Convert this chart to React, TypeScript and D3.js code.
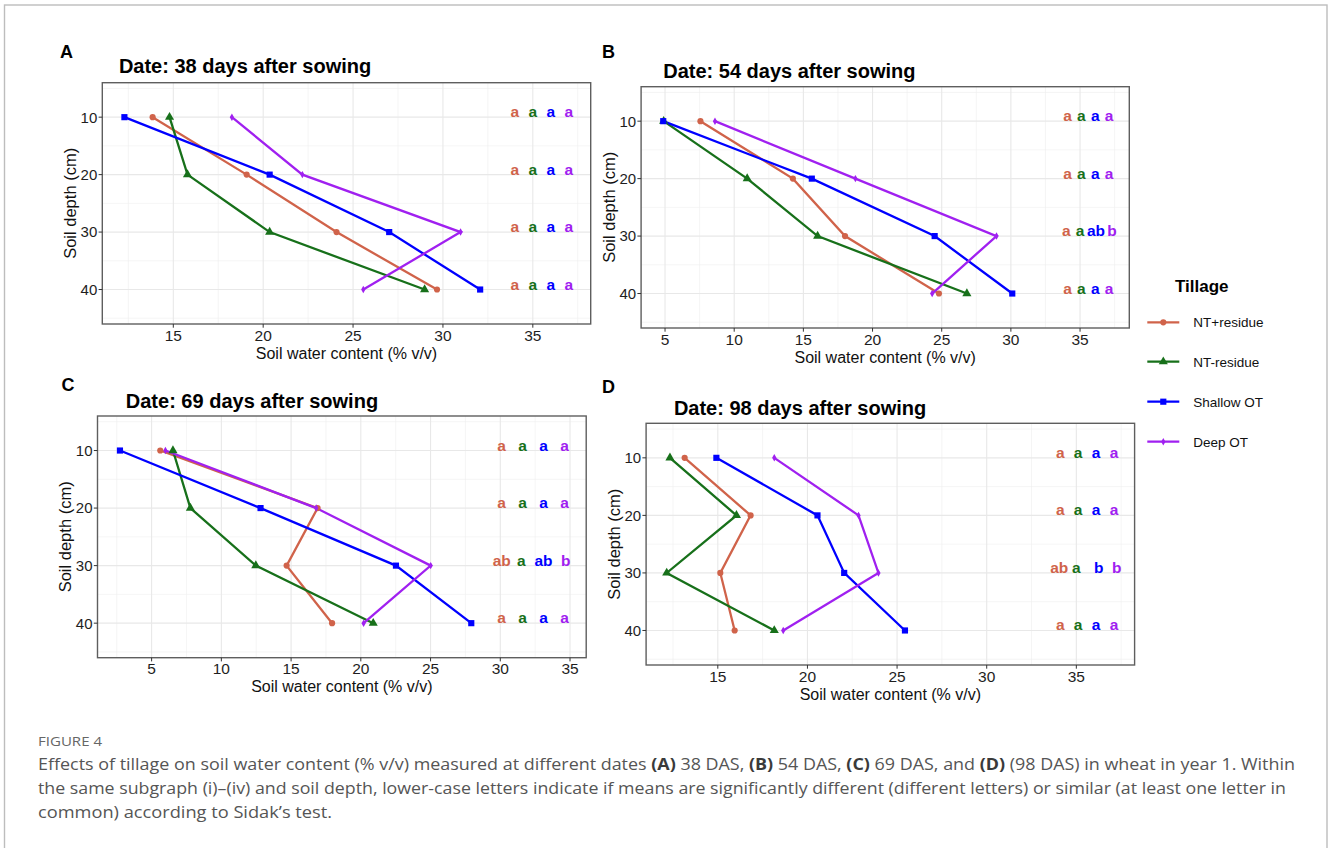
import React from 'react';
import * as d3 from 'd3';

// ---------- DATA ----------
const depths = [10, 20, 30, 40];
const treatments = ['NT+residue', 'NT-residue', 'Shallow OT', 'Deep OT'];
const treatmentColors = ['#D0634A', '#17701A', '#0000FF', '#A020F0'];

// Panel A: 38 DAS (soil water content % v/v at depths 10,20,30,40)
const swcA_NTplus = [13.85, 19.08, 24.08, 29.67];
const swcA_NTminus = [14.79, 15.79, 20.36, 28.98];
const swcA_Shallow = [12.28, 20.36, 27.01, 32.07];
const swcA_Deep = [18.26, 22.18, 30.98, 25.57];

// Panel B: 54 DAS
const swcB_NTplus = [7.56, 14.24, 18.01, 24.8];
const swcB_NTminus = [4.9, 10.94, 16.03, 26.82];
const swcB_Shallow = [4.87, 15.61, 24.49, 30.1];
const swcB_Deep = [8.61, 18.76, 28.96, 24.31];

// Panel C: 69 DAS
const swcC_NTplus = [5.62, 16.9, 14.68, 17.94];
const swcC_NTminus = [6.53, 7.78, 12.47, 20.89];
const swcC_Shallow = [2.73, 12.81, 22.52, 27.92];
const swcC_Deep = [5.99, 16.8, 25.01, 20.2];

// Panel D: 98 DAS
const swcD_NTplus = [13.15, 16.83, 15.14, 15.94];
const swcD_NTminus = [12.33, 16.04, 12.15, 18.15];
const swcD_Shallow = [14.92, 20.56, 22.05, 25.44];
const swcD_Deep = [18.15, 22.85, 23.96, 18.65];

// Significance letters [depth][treatment]
const lettersA = [['a', 'a', 'a', 'a'], ['a', 'a', 'a', 'a'], ['a', 'a', 'a', 'a'], ['a', 'a', 'a', 'a']];
const lettersB = [['a', 'a', 'a', 'a'], ['a', 'a', 'a', 'a'], ['a', 'a', 'ab', 'b'], ['a', 'a', 'a', 'a']];
const lettersC = [['a', 'a', 'a', 'a'], ['a', 'a', 'a', 'a'], ['ab', 'a', 'ab', 'b'], ['a', 'a', 'a', 'a']];
const lettersD = [['a', 'a', 'a', 'a'], ['a', 'a', 'a', 'a'], ['ab', 'a', 'b', 'b'], ['a', 'a', 'a', 'a']];

// x position (data units) of the letters [depth][treatment]
const letterPosA = [[34, 35, 36, 37], [34, 35, 36, 37], [34, 35, 36, 37], [34, 35, 36, 37]];
const letterPosB = [[34.1, 35.1, 36.1, 37.1], [34.1, 35.1, 36.1, 37.1], [34, 35, 36.15, 37.3], [34.1, 35.1, 36.1, 37.1]];
const letterPosC = [[30.1, 31.6, 33.1, 34.6], [30.1, 31.6, 33.1, 34.6], [30.1, 31.5, 33.1, 34.7], [30.1, 31.6, 33.1, 34.6]];
const letterPosD = [[34.1, 35.1, 36.1, 37.1], [34.1, 35.1, 36.1, 37.1], [34.05, 35.0, 36.25, 37.25], [34.1, 35.1, 36.1, 37.1]];

const xTicksA = [15, 20, 25, 30, 35];
const xTicksB = [5, 10, 15, 20, 25, 30, 35];
const xTicksC = [5, 10, 15, 20, 25, 30, 35];
const xTicksD = [15, 20, 25, 30, 35];
const yTicks = [10, 20, 30, 40];
const yMinorTicks = [5, 15, 25, 35, 45];

const titles = [
  'Date: 38 days after sowing',
  'Date: 54 days after sowing',
  'Date: 69 days after sowing',
  'Date: 98 days after sowing',
];
const panelLabels = ['A', 'B', 'C', 'D'];

// ---------- LAYOUT ----------
const FONT = "'Liberation Sans', Arial, Helvetica, sans-serif";
const panels = [
  {
    label: panelLabels[0], title: titles[0],
    box: [102.3, 590.7, 82.7, 324], xDomain: [11.05, 38.22], xTicks: xTicksA,
    titlePos: [118.9, 73.3], labelPos: [60, 57.5],
    series: [swcA_NTplus, swcA_NTminus, swcA_Shallow, swcA_Deep],
    letters: lettersA, letterPos: letterPosA,
  },
  {
    label: panelLabels[1], title: titles[1],
    box: [641.1, 1129.3, 86.7, 328], xDomain: [3.27, 38.56], xTicks: xTicksB,
    titlePos: [663.2, 78.3], labelPos: [602, 57.5],
    series: [swcB_NTplus, swcB_NTminus, swcB_Shallow, swcB_Deep],
    letters: lettersB, letterPos: letterPosB,
  },
  {
    label: panelLabels[2], title: titles[2],
    box: [97.5, 586.2, 416, 657.7], xDomain: [1.12, 36.16], xTicks: xTicksC,
    titlePos: [125.8, 408.3], labelPos: [61.5, 390.5],
    series: [swcC_NTplus, swcC_NTminus, swcC_Shallow, swcC_Deep],
    letters: lettersC, letterPos: letterPosC,
  },
  {
    label: panelLabels[3], title: titles[3],
    box: [646.1, 1134.6, 423.3, 665], xDomain: [11.0, 38.25], xTicks: xTicksD,
    titlePos: [673.9, 415], labelPos: [602, 392.5],
    series: [swcD_NTplus, swcD_NTminus, swcD_Shallow, swcD_Deep],
    letters: lettersD, letterPos: letterPosD,
  },
];

const symbolTypes = [d3.symbolCircle, d3.symbolTriangle, d3.symbolSquare, d3.symbolDiamond];
const symbolSizes = [30, 36, 38, 16];

function symbolPath(i: number) {
  return d3.symbol().type(symbolTypes[i]).size(symbolSizes[i])() as string;
}

function Panel({ p }: { p: any }) {
  const [left, right, top, bottom] = p.box;
  const x = d3.scaleLinear().domain(p.xDomain).range([left, right]);
  const y = d3.scaleLinear().domain([4, 46]).range([top, bottom]);
  const majors: number[] = p.xTicks;
  const minors: number[] = [];
  const step = majors[1] - majors[0];
  const cand = [majors[0] - step / 2, ...majors.map((m: number) => m + step / 2)];
  cand.forEach((c) => {
    if (c > p.xDomain[0] && c < p.xDomain[1]) minors.push(c);
  });
  const line = d3
    .line<number>()
    .x((d) => x(d))
    .y((_, i) => y(depths[i]));
  const cx = (left + right) / 2;
  const cy = (top + bottom) / 2;
  return (
    <g>
      {/* grid */}
      {minors.map((m) => (
        <line key={'xm' + m} x1={x(m)} x2={x(m)} y1={top} y2={bottom} stroke="#efefef" strokeWidth={0.6} />
      ))}
      {yMinorTicks.map((m) => (
        <line key={'ym' + m} x1={left} x2={right} y1={y(m)} y2={y(m)} stroke="#efefef" strokeWidth={0.6} />
      ))}
      {majors.map((m) => (
        <line key={'xM' + m} x1={x(m)} x2={x(m)} y1={top} y2={bottom} stroke="#e8e8e8" strokeWidth={1.1} />
      ))}
      {yTicks.map((m) => (
        <line key={'yM' + m} x1={left} x2={right} y1={y(m)} y2={y(m)} stroke="#e8e8e8" strokeWidth={1.1} />
      ))}
      {/* lines */}
      {p.series.map((s: number[], i: number) => (
        <path key={'l' + i} d={line(s) as string} fill="none" stroke={treatmentColors[i]} strokeWidth={2.3} />
      ))}
      {/* points */}
      {p.series.map((s: number[], i: number) =>
        s.map((v, j) => (
          <path
            key={'p' + i + '-' + j}
            d={symbolPath(i)}
            transform={`translate(${x(v)},${y(depths[j])})`}
            fill={treatmentColors[i]}
          />
        ))
      )}
      {/* letters */}
      {p.letters.map((row: string[], j: number) =>
        row.map((t, i) => (
          <text
            key={'t' + i + '-' + j}
            x={x(p.letterPos[j][i])}
            y={y(depths[j])}
            textAnchor="middle"
            fontFamily={FONT}
            fontWeight="bold"
            fontSize={15.5}
            fill={treatmentColors[i]}
          >
            {t}
          </text>
        ))
      )}
      {/* border */}
      <rect x={left} y={top} width={right - left} height={bottom - top} fill="none" stroke="#5e5e5e" strokeWidth={1.4} />
      {/* x axis */}
      {majors.map((m) => (
        <g key={'xt' + m}>
          <line x1={x(m)} x2={x(m)} y1={bottom} y2={bottom + 3.7} stroke="#333" strokeWidth={1} />
          <text x={x(m)} y={bottom + 16.5} textAnchor="middle" fontFamily={FONT} fontSize={15.5} fill="#1e1e1e">
            {m}
          </text>
        </g>
      ))}
      {yTicks.map((m) => (
        <g key={'yt' + m}>
          <line x1={left - 3.7} x2={left} y1={y(m)} y2={y(m)} stroke="#333" strokeWidth={1} />
          <text x={left - 5} y={y(m)} dy="0.36em" textAnchor="end" fontFamily={FONT} fontSize={15} fill="#1e1e1e">
            {m}
          </text>
        </g>
      ))}
      <text x={cx} y={bottom + 34.5} textAnchor="middle" fontFamily={FONT} fontSize={16} fill="#111">
        Soil water content (% v/v)
      </text>
      <text
        transform={`translate(${left - 31},${cy}) rotate(-90)`}
        dy="0.3em"
        textAnchor="middle"
        fontFamily={FONT}
        fontSize={16.5}
        fill="#111"
      >
        Soil depth (cm)
      </text>
      <text x={p.titlePos[0]} y={p.titlePos[1]} fontFamily={FONT} fontWeight="bold" fontSize={20} fill="#000">
        {p.title}
      </text>
      <text x={p.labelPos[0]} y={p.labelPos[1]} fontFamily={FONT} fontWeight="bold" fontSize={18} fill="#000">
        {p.label}
      </text>
    </g>
  );
}

function Legend() {
  const keyX0 = 1147.3;
  const keyX1 = 1179.3;
  const ys = [322.3, 361.7, 401.7, 441.7];
  return (
    <g>
      <text x={1175} y={291.5} fontFamily={FONT} fontWeight="bold" fontSize={17} fill="#000">
        Tillage
      </text>
      {treatments.map((t, i) => (
        <g key={t}>
          <line x1={keyX0} x2={keyX1} y1={ys[i]} y2={ys[i]} stroke={treatmentColors[i]} strokeWidth={2.2} />
          <path d={symbolPath(i)} transform={`translate(${(keyX0 + keyX1) / 2},${ys[i]})`} fill={treatmentColors[i]} />
          <text x={1193.3} y={ys[i]} dy="0.36em" fontFamily={FONT} fontSize={13.5} fill="#111">
            {t}
          </text>
        </g>
      ))}
    </g>
  );
}

const CAP_FONT = "'Open Sans', 'Noto Sans', sans-serif";

function Caption() {
  const b = { fontWeight: 700, fill: '#3a3a3a' } as any;
  return (
    <g fontFamily={CAP_FONT} fill="#555">
      <text x={38} y={745.5} fontSize={13} fill="#666" textLength={64} lengthAdjust="spacingAndGlyphs">
        FIGURE 4
      </text>
      <text x={38} y={769.5} fontSize={16} textLength={1257} lengthAdjust="spacingAndGlyphs">
        Effects of tillage on soil water content (% v/v) measured at different dates{' '}
        <tspan {...b}>(A)</tspan> 38 DAS, <tspan {...b}>(B)</tspan> 54 DAS, <tspan {...b}>(C)</tspan> 69 DAS, and{' '}
        <tspan {...b}>(D)</tspan> (98 DAS) in wheat in year 1. Within
      </text>
      <text x={38} y={793.5} fontSize={16} textLength={1248} lengthAdjust="spacingAndGlyphs">
        the same subgraph (i)–(iv) and soil depth, lower-case letters indicate if means are significantly different
        (different letters) or similar (at least one letter in
      </text>
      <text x={38} y={817.5} fontSize={16} textLength={294} lengthAdjust="spacingAndGlyphs">
        common) according to Sidak’s test.
      </text>
    </g>
  );
}

export default function App() {
  return (
    <svg
      width={1328}
      height={848}
      viewBox="0 0 1328 848"
      style={{ position: 'absolute', left: 0, top: 0, background: '#fff' }}
    >
      <rect x={0} y={0} width={1328} height={848} fill="#fff" />
      <rect x={4.5} y={5} width={1322.5} height={900} fill="none" stroke="#bdbdbd" strokeWidth={1.4} />
      {panels.map((p) => (
        <Panel key={p.label} p={p} />
      ))}
      <Legend />
      <Caption />
    </svg>
  );
}
